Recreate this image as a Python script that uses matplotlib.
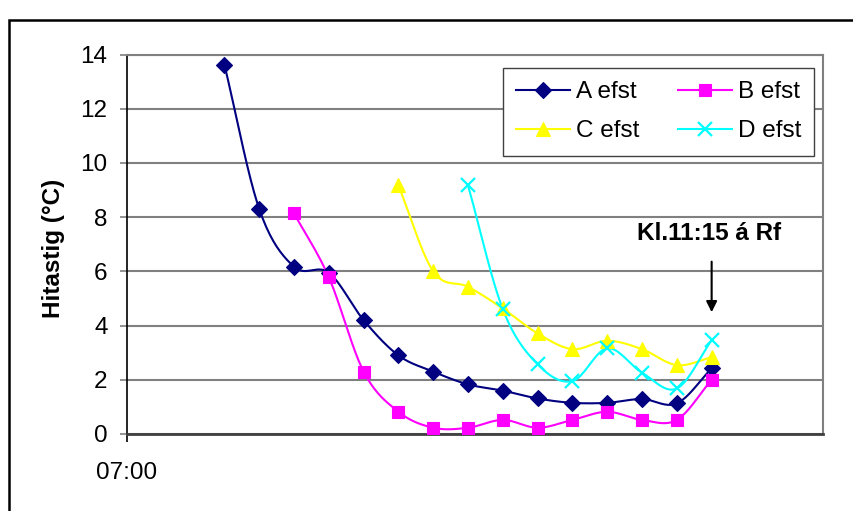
import numpy as np
import matplotlib
matplotlib.use("Agg")
import matplotlib.pyplot as plt
from matplotlib.patches import Rectangle

plt.rcParams['font.family'] = ['Liberation Sans', 'DejaVu Sans']

# Measurement times (clock time) and temperatures for each series
times = ["07:42", "07:57", "08:12", "08:27", "08:42", "08:57", "09:12", "09:27",
         "09:42", "09:57", "10:12", "10:27", "10:42", "10:57", "11:12"]

a_vals = [13.62, 8.30, 6.17, 5.95, 4.20, 2.90, 2.30, 1.83, 1.60, 1.31, 1.15,
          1.15, 1.29, 1.13, 2.42]
b_vals = [8.14, 5.78, 2.30, 0.82, 0.23, 0.23, 0.52, 0.23, 0.52, 0.82, 0.52,
          0.52, 2.00]
c_vals = [9.17, 6.00, 5.43, 4.63, 3.71, 3.13, 3.44, 3.13, 2.54, 2.83]
d_vals = [9.17, 4.60, 2.57, 1.95, 3.16, 2.26, 1.68, 3.46]

labels = ["A efst", "B efst", "C efst", "D efst"]
colors = ["#000080", "#FF00FF", "#FFFF00", "#00FFFF"]
markers = ["D", "s", "^", "x"]
msizes = [8.5, 8.5, 10, 9.5]

y_ticks = [0, 2, 4, 6, 8, 10, 12, 14]
x_tick_labels = ["07:00"]
annotation = "Kl.11:15 á Rf"

FS = 17.5


def to_minutes(t):
    h, m = t.split(":")
    return (int(h) - 7) * 60 + int(m)


def smooth(x, y, n=20):
    """Catmull-Rom style smoothing between successive points."""
    x = np.asarray(x, float)
    y = np.asarray(y, float)
    if len(x) < 3:
        return x, y
    px = np.concatenate([[2 * x[0] - x[1]], x, [2 * x[-1] - x[-2]]])
    py = np.concatenate([[2 * y[0] - y[1]], y, [2 * y[-1] - y[-2]]])
    xs, ys = [], []
    t = np.linspace(0, 1, n, endpoint=False)
    for i in range(1, len(px) - 2):
        p0, p1, p2, p3 = (np.array([px[j], py[j]]) for j in range(i - 1, i + 3))
        c1 = p1 + (p2 - p0) / 6.0
        c2 = p2 - (p3 - p1) / 6.0
        pts = ((1 - t) ** 3)[:, None] * p1 + (3 * (1 - t) ** 2 * t)[:, None] * c1 \
            + (3 * (1 - t) * t ** 2)[:, None] * c2 + (t ** 3)[:, None] * p2
        xs.append(pts[:, 0])
        ys.append(pts[:, 1])
    xs.append([x[-1]])
    ys.append([y[-1]])
    return np.concatenate(xs), np.concatenate(ys)


fig = plt.figure(figsize=(8.54, 5.11), dpi=100)
ax = fig.add_axes([127 / 854, 1 - 434 / 511, (823 - 127) / 854, (434 - 54.5) / 511])

# outer chart frame
fig.patches.append(Rectangle((9 / 854, -0.1), 1.2, 0.1 + 1 - 20 / 511,
                             transform=fig.transFigure, fill=False,
                             edgecolor="black", linewidth=1.8, zorder=0))

series = [a_vals, b_vals, c_vals, d_vals]
all_x = [to_minutes(t) for t in times]
handles = []
for vals, lab, col, mk, ms in zip(series, labels, colors, markers, msizes):
    xs = all_x[len(all_x) - len(vals):]
    sx, sy = smooth(xs, vals)
    mew = 1.6 if mk == "x" else 0.8
    ax.plot(sx, sy, color=col, linewidth=1.5, zorder=3)
    ax.plot(xs, vals, linestyle="none", marker=mk, color=col, markersize=ms,
            markeredgewidth=mew, zorder=4)
    h, = ax.plot([], [], color=col, linewidth=1.5, marker=mk, markersize=ms,
                 markeredgewidth=mew)
    handles.append(h)

ax.set_xlim(0, 300)
ax.set_ylim(0, 14)
ax.set_yticks(y_ticks)
ax.set_xticks([0])
ax.set_xticklabels(x_tick_labels)
ax.yaxis.grid(True, color="#808080", linewidth=1.5)
ax.set_axisbelow(True)

for side in ["top", "right"]:
    ax.spines[side].set_color("#808080")
    ax.spines[side].set_linewidth(1.5)
ax.spines["left"].set_color("black")
ax.spines["left"].set_linewidth(1.2)
ax.spines["bottom"].set_color("#404040")
ax.spines["bottom"].set_linewidth(2.0)

ax.tick_params(axis="y", direction="out", length=5, width=1.2, color="#808080",
               labelsize=FS, pad=9)
ax.tick_params(axis="x", direction="out", length=6, width=1.2, color="black",
               labelsize=FS, pad=14.5)

ax.set_ylabel("Hitastig (°C)", fontsize=FS, fontweight="bold")
ax.yaxis.set_label_coords(-0.089, 0.49)

leg = ax.legend([handles[0], handles[2], handles[1], handles[3]],
                [labels[0], labels[2], labels[1], labels[3]],
                ncol=2, loc="upper left",
                bbox_to_anchor=((503 - 127) / 696, 1 - (68 - 54.5) / 379.5),
                fontsize=FS, frameon=True, fancybox=False, edgecolor="#404040",
                framealpha=1, handlelength=2.2, columnspacing=1.6,
                borderpad=0.55, labelspacing=0.7, handletextpad=0.25,
                borderaxespad=0)
leg.get_frame().set_linewidth(1.0)

arrow_x = to_minutes("11:12")
ax.annotate("", xy=(arrow_x, 4.39), xytext=(arrow_x, 6.46),
            arrowprops=dict(arrowstyle="-|>", color="black", lw=1.5,
                            mutation_scale=16))
ax.text(arrow_x - 1, 7.38, annotation, fontsize=FS, fontweight="bold",
        ha="center", va="center")

fig.savefig("out.png", dpi=100)
